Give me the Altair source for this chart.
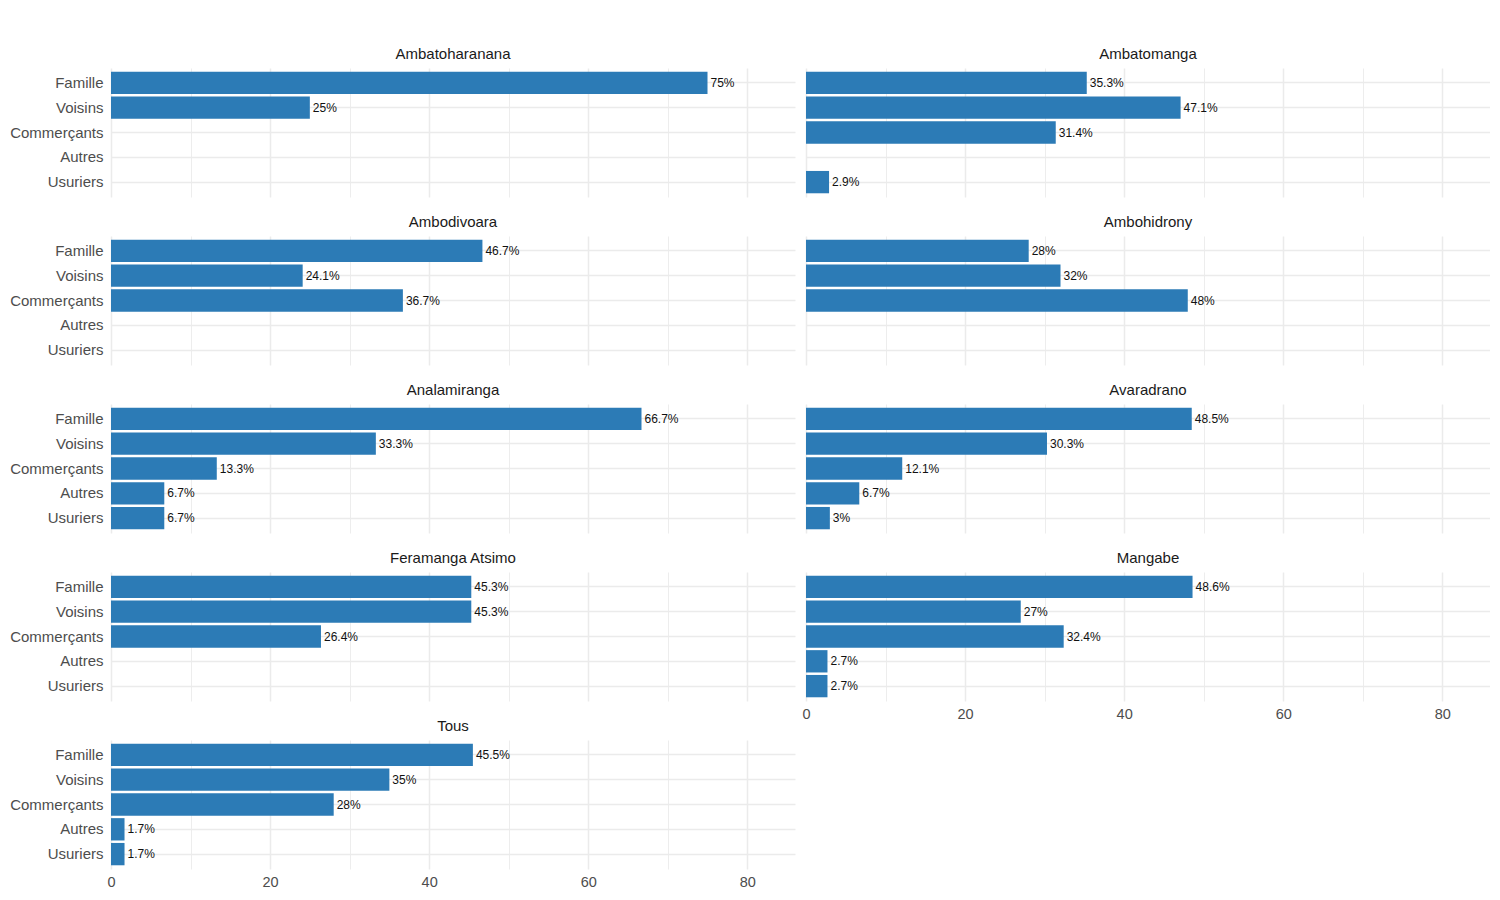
import altair as alt
import pandas as pd

categories = ["Famille", "Voisins", "Commerçants", "Autres", "Usuriers"]
regions = ["Ambatoharanana", "Ambatomanga", "Ambodivoara", "Ambohidrony",
           "Analamiranga", "Avaradrano", "Feramanga Atsimo", "Mangabe", "Tous"]

ambatoharanana = [75, 25, None, None, None]
ambatomanga = [35.3, 47.1, 31.4, None, 2.9]
ambodivoara = [46.7, 24.1, 36.7, None, None]
ambohidrony = [28, 32, 48, None, None]
analamiranga = [66.7, 33.3, 13.3, 6.7, 6.7]
avaradrano = [48.5, 30.3, 12.1, 6.7, 3]
feramanga_atsimo = [45.3, 45.3, 26.4, None, None]
mangabe = [48.6, 27, 32.4, 2.7, 2.7]
tous = [45.5, 35, 28, 1.7, 1.7]

series = [ambatoharanana, ambatomanga, ambodivoara, ambohidrony, analamiranga,
          avaradrano, feramanga_atsimo, mangabe, tous]

x_ticks = [0, 10, 20, 30, 40, 50, 60, 70, 80]

rows = []
for reg, vals in zip(regions, series):
    for cat, v in zip(categories, vals):
        if v is not None:
            rows.append({"region": reg, "category": cat, "value": v, "label": f"{v:g}%"})
df = pd.DataFrame(rows)

FONT = "Liberation Sans"
BAR = "#2C7BB6"


def panel(region, show_y, show_x):
    d = df[df["region"] == region]
    base = alt.Chart(d)
    x = alt.X(
        "value:Q",
        scale=alt.Scale(domain=[0, 86], nice=False, zero=True),
        axis=alt.Axis(
            values=x_ticks,
            labelExpr="datum.value % 20 == 0 ? datum.label : ''",
            labels=show_x,
            labelFlush=False,
            ticks=False,
            domain=False,
            grid=True,
            gridColor="#EBEBEB",
            gridWidth={"condition": {"test": "datum.value % 20 == 0", "value": 1.5}, "value": 0.9},
            title=None,
            labelFontSize=14.5,
            labelColor="#4D4D4D",
            labelPadding=6,
            labelFont=FONT,
        ),
    )
    y = alt.Y(
        "category:N",
        sort=categories,
        scale=alt.Scale(domain=categories, paddingInner=0.1, paddingOuter=0.15),
        axis=alt.Axis(
            labels=show_y,
            ticks=False,
            domain=False,
            grid=True,
            bandPosition=0.5,
            gridColor="#EBEBEB",
            gridWidth=1.5,
            title=None,
            labelFontSize=15,
            labelColor="#4D4D4D",
            labelPadding=8,
            labelFont=FONT,
        ),
    )
    bars = base.mark_bar(color=BAR).encode(x=x, y=y)
    texts = base.mark_text(align="left", baseline="middle", dx=3, fontSize=12,
                           color="#111111", font=FONT).encode(
        x=alt.X("value:Q"), y=alt.Y("category:N", sort=categories), text="label:N")
    return alt.layer(bars, texts).properties(
        width=684, height=129,
        title=alt.TitleParams(region, fontSize=15, fontWeight="normal", color="#1A1A1A",
                              offset=6, anchor="middle", font=FONT),
    )


left = alt.vconcat(
    panel(regions[0], True, False),
    panel(regions[2], True, False),
    panel(regions[4], True, False),
    panel(regions[6], True, False),
    panel(regions[8], True, True),
    spacing=18,
)
right = alt.vconcat(
    panel(regions[1], False, False),
    panel(regions[3], False, False),
    panel(regions[5], False, False),
    panel(regions[7], False, True),
    spacing=18,
)

chart = alt.hconcat(left, right, spacing=6).properties(
    padding={"top": 39, "left": 1, "right": 0, "bottom": 0}
).configure(font=FONT, background="white").configure_view(stroke="transparent", strokeWidth=0)

chart.save("out.html", embed_options={"renderer": "svg", "actions": False})
